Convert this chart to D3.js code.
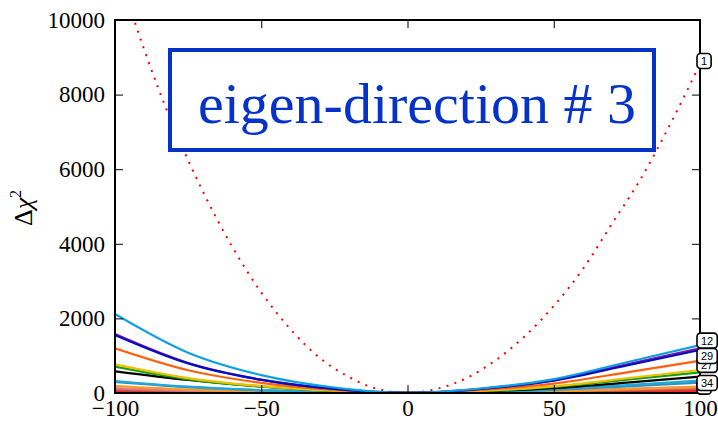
<!DOCTYPE html>
<html>
<head>
<meta charset="utf-8">
<title>eigen-direction 3</title>
<script src="https://cdn.jsdelivr.net/npm/d3@7"></script>
<style>
body { margin: 0; background: #fff; }
</style>
</head>
<body>
<script>

var xGrid = [-100, -75, -50, -25, 0, 25, 50, 75, 100];

// coloured curves, drawn first to last
var lineColors = ["#cc0000", "#ff1010", "#ee2a2a", "#b86a6a", "#e08080", "#ff9a20",
                  "#2f8fc0", "#20a8d8", "#000000", "#10a010", "#f0c000", "#ff6010",
                  "#8a10a8", "#0010c0", "#10a0e0"];
var lineValues = [
  [40, 20, 9, 3, 0, 2, 9, 20, 35],
  [70, 36, 16, 5, 0, 7, 23, 51, 80],
  [55, 28, 12, 4, 0, 5, 17, 38, 60],
  [95, 48, 21, 6, 0, 11, 35, 78, 120],
  [130, 66, 30, 9, 0, 16, 49, 108, 169],
  [188, 96, 43, 13, 0, 15, 46, 102, 160],
  [300, 158, 72, 23, 1, 26, 81, 179, 280],
  [322, 170, 78, 25, 1, 31, 96, 211, 330],
  [582, 350, 175, 58, 2, 45, 130, 280, 437],
  [705, 366, 170, 55, 3, 52, 161, 355, 555],
  [770, 400, 185, 60, 3, 58, 180, 395, 617],
  [1198, 611, 272, 84, 3, 81, 251, 554, 866],
  [1580, 806, 359, 111, 4, 111, 347, 767, 1198],
  [1555, 793, 353, 109, 4, 107, 334, 738, 1153],
  [2118, 1080, 480, 148, 5, 120, 373, 824, 1287]
];

// red dotted curve (label 1)
var redX = [-95, -90, -80, -70, -60, -50, -40, -30, -20, -10, 0, 10, 20, 30, 40, 50, 60, 70, 80, 90, 100];
var redY = [10350, 9200, 7140, 5410, 3930, 2695, 1709, 938, 428, 102, 5, 111, 392, 871, 1516, 2335, 3330, 4550, 5775, 7235, 8820];

// boxed labels at the right edge
var labelText = ["1", "27", "29", "12", "3", "34"];
var labelVals = [8900, 755, 990, 1405, 170, 270];

var xTicks = [-100, -50, 0, 50, 100];
var yTicks = [0, 2000, 4000, 6000, 8000, 10000];

var serif = "Liberation Serif";

var margin = {top: 20, right: 18, bottom: 28, left: 115},
  width = 718 - margin.left - margin.right,
  height = 421 - margin.top - margin.bottom;

var svg = d3.select("body").append("svg")
  .attr("width", 718)
  .attr("height", 421)
 .append("g")
  .attr("transform", "translate(" + margin.left + "," + margin.top + ")");

var x = d3.scaleLinear().domain([-100, 100]).range([0, width]);
var y = d3.scaleLinear().domain([0, 10000]).range([height, 0]);

svg.append("clipPath").attr("id", "plotclip")
 .append("rect")
  .attr("width", width)
  .attr("height", height);

var plot = svg.append("g").attr("clip-path", "url(#plotclip)");

var line = d3.line()
  .x(function(d) { return x(d[0]); })
  .y(function(d) { return y(d[1]); })
  .curve(d3.curveMonotoneX);

// red dotted parabola
plot.append("path")
  .datum(redX.map(function(v, i) { return [v, redY[i]]; }))
  .attr("d", line)
  .attr("fill", "none")
  .attr("stroke", "#ff0000")
  .attr("stroke-width", 2)
  .attr("stroke-dasharray", "2,6.3");

lineValues.forEach(function(vals, i) {
  plot.append("path")
    .datum(xGrid.map(function(v, j) { return [v, vals[j]]; }))
    .attr("d", line)
    .attr("fill", "none")
    .attr("stroke", lineColors[i])
    .attr("stroke-width", 2.2);
});

// title box
svg.append("rect")
  .attr("x", 170 - margin.left)
  .attr("y", 50 - margin.top)
  .attr("width", 484)
  .attr("height", 100)
  .attr("fill", "#fff")
  .attr("stroke", "#0532c8")
  .attr("stroke-width", 4);

svg.append("text")
  .attr("x", 417 - margin.left)
  .attr("y", 123 - margin.top)
  .attr("text-anchor", "middle")
  .attr("font-family", serif)
  .attr("font-size", 58)
  .attr("fill", "#0532c8")
  .text("eigen-direction # 3");

// axes, ticks pointing inwards on all four sides
var xAxis = svg.append("g")
  .attr("transform", "translate(0," + height + ")")
  .call(d3.axisBottom(x).tickValues(xTicks).tickSizeInner(-8).tickSizeOuter(0).tickPadding(7));
xAxis.select(".domain").remove();

var yAxis = svg.append("g")
  .call(d3.axisLeft(y).tickValues(yTicks).tickFormat(d3.format("d")).tickSizeInner(-8).tickSizeOuter(0).tickPadding(10));
yAxis.select(".domain").remove();

[xAxis, yAxis].forEach(function(a) {
  a.attr("font-family", serif).attr("font-size", 23);
  a.selectAll("text").attr("font-family", serif).attr("font-size", 23).attr("fill", "#000");
});

svg.append("g")
  .call(d3.axisTop(x).tickValues(xTicks).tickSizeInner(-8).tickSizeOuter(0).tickFormat(""))
  .select(".domain").remove();

svg.append("g")
  .attr("transform", "translate(" + width + ",0)")
  .call(d3.axisRight(y).tickValues(yTicks).tickSizeInner(-8).tickSizeOuter(0).tickFormat(""))
  .select(".domain").remove();

svg.selectAll(".tick line").attr("stroke", "#000").attr("stroke-width", 1);

svg.append("rect")
  .attr("width", width)
  .attr("height", height)
  .attr("fill", "none")
  .attr("stroke", "#000")
  .attr("stroke-width", 2);

// y label
var ylab = svg.append("text")
  .attr("transform", "translate(" + (32 - margin.left) + "," + (208 - margin.top) + ") rotate(-90)")
  .attr("text-anchor", "middle")
  .attr("font-family", serif)
  .attr("font-size", 26);
ylab.append("tspan").text("Δ");
ylab.append("tspan").attr("font-style", "italic").text("χ");
ylab.append("tspan").attr("dy", -11).attr("font-size", 16).text("2");

// boxed labels at right edge
labelText.forEach(function(t, i) {
  var g = svg.append("g")
    .attr("transform", "translate(" + (x(100) - 3) + "," + y(labelVals[i]) + ")");
  var txt = g.append("text")
    .attr("x", 4)
    .attr("y", 4)
    .attr("font-family", "Liberation Sans")
    .attr("font-size", 11)
    .text(t);
  var w = txt.node().getComputedTextLength();
  g.insert("rect", "text")
    .attr("x", 0)
    .attr("y", -7.5)
    .attr("width", w + 8)
    .attr("height", 15)
    .attr("rx", 3.5)
    .attr("fill", "#fff")
    .attr("stroke", "#000")
    .attr("stroke-width", 1.6);
});

</script>
</body>
</html>
